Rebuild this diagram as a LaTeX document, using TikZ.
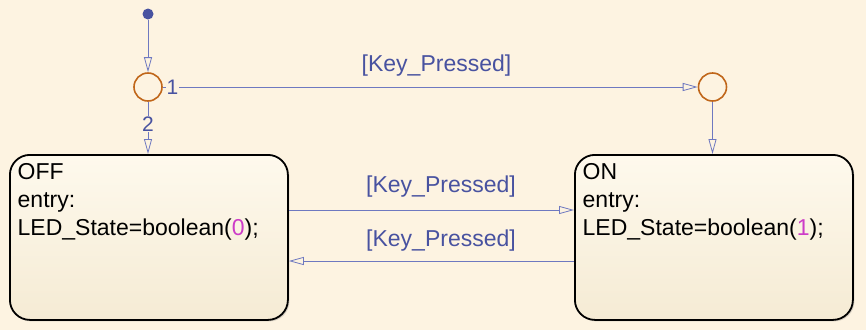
\documentclass[tikz,border=0pt]{standalone}
\usepackage{fontspec}
\setmainfont{Liberation Sans}
\usetikzlibrary{arrows.meta,shadows}
\definecolor{bg}{RGB}{253,243,225}
\definecolor{trans}{RGB}{110,120,192}
\definecolor{lbl}{RGB}{72,82,160}
\definecolor{junc}{RGB}{192,102,26}
\definecolor{stop}{RGB}{254,249,237}
\definecolor{sbot}{RGB}{245,235,212}
\definecolor{num}{RGB}{205,60,200}
\begin{document}
\begin{tikzpicture}[x=1pt,y=-1pt,
  statebox/.style={draw=black, line width=1.8pt, rounded corners=20pt,
    top color=stop, bottom color=sbot, minimum width=278pt, minimum height=165pt,
    anchor=north west, inner sep=0pt,
    drop shadow={shadow xshift=1.5pt, shadow yshift=-1.5pt, opacity=0.25, fill=black!60}},
  statetext/.style={anchor=base west, align=left, inner sep=0pt,
    font=\fontsize{23}{28}\selectfont, text=black},
  junction/.style={circle, draw=junc, line width=1.6pt, fill=bg, minimum size=28pt, inner sep=0pt},
  tr/.style={draw=trans, line width=0.8pt, -{Triangle[open, length=15pt, width=8pt]}},
  tlabel/.style={text=lbl, font=\fontsize{23}{28}\selectfont, inner sep=0pt},
  order/.style={text=lbl, font=\fontsize{21}{24}\selectfont, fill=bg, inner sep=1pt}
]
\useasboundingbox[fill=bg] (0,0) rectangle (866,330);

% states
\node[statebox] (off) at (9,154) {};
\node[statebox] (on) at (574,154) {};
\node[statetext] (offtxt) at (17.5,235) {OFF\\entry:\\LED\_State=boolean(\textcolor{num}{0});};
\node[statetext] (ontxt) at (582.5,235) {ON\\entry:\\LED\_State=boolean(\textcolor{num}{1});};

% junctions and default transition
\node[circle, fill=lbl, minimum size=11pt, inner sep=0pt] (dot) at (148,14) {};
\node[junction] (j1) at (148,87) {};
\node[junction] (j2) at (712.5,87) {};

\draw[tr] (dot) -- (j1);
\draw[tr] (j1) -- (j2);
\draw[tr] (j1) -- (off.north -| j1);
\draw[tr] (j2) -- (on.north -| j2);
\draw[tr] (off.east |- 0,210) -- (on.west |- 0,210);
\draw[tr] (on.west |- 0,261) -- (off.east |- 0,261);

% labels
\node[order] (n1) at (172.5,87.5) {1};
\node[order] (n2) at (148,124) {2};
\node[tlabel] (l1) at (436.5,66) {[Key\_Pressed]};
\node[tlabel] (l2) at (441,187) {[Key\_Pressed]};
\node[tlabel] (l3) at (441,241) {[Key\_Pressed]};
\end{tikzpicture}
\end{document}
